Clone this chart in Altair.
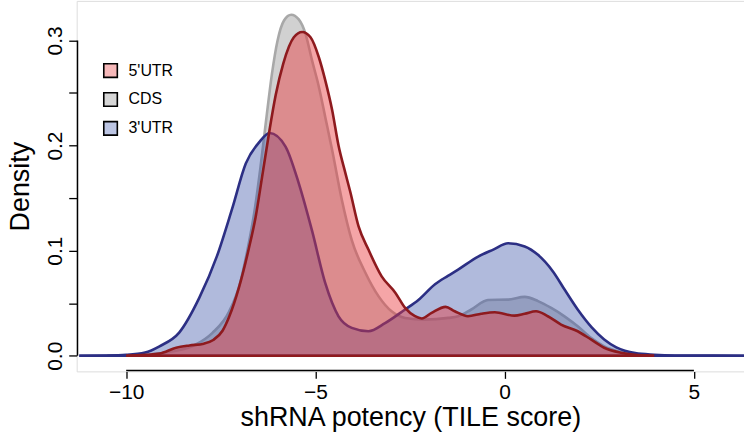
import altair as alt
import pandas as pd

# ---- data (density curves) ----
utr3_x = [-11.24, -10.5, -10.0, -9.5, -9.12, -8.6, -8.07, -7.6, -7.2, -6.84, -6.49, -6.21,
          -5.79, -5.44, -5.09, -4.74, -4.39, -4.04, -3.6, -3.16, -2.63, -2.28, -1.84, -1.5,
          -1.23, -0.7, -0.3, 0.09, 0.53, 0.88, 1.28, 1.6, 1.93, 2.3, 2.63, 2.95, 3.45, 3.95,
          4.5, 5.5, 6.4]
utr3_y = [0.0, 0.0002, 0.0008, 0.003, 0.009, 0.022, 0.055, 0.095, 0.14, 0.183, 0.203, 0.212,
          0.199, 0.164, 0.119, 0.069, 0.0375, 0.0265, 0.0233, 0.031, 0.044, 0.053, 0.068,
          0.076, 0.082, 0.0944, 0.101, 0.107, 0.104, 0.096, 0.080, 0.062, 0.044, 0.027,
          0.0155, 0.008, 0.0025, 0.001, 0.0003, 0.0001, 0.0]

cds_x = [-10.5, -9.5, -8.8, -8.16, -7.72, -7.28, -7.0, -6.8, -6.6, -6.45, -6.3, -6.15, -6.0,
         -5.83, -5.64, -5.44, -5.26, -5.09, -4.91, -4.74, -4.56, -4.3, -4.04, -3.68, -3.33,
         -2.98, -2.63, -2.11, -1.49, -1.23, -0.88, -0.44, 0.09, 0.53, 0.88, 1.23, 1.58, 1.93,
         2.28, 2.63, 2.98, 3.5, 4.0]
cds_y = [0.0, 0.0008, 0.004, 0.0107, 0.0218, 0.042, 0.068, 0.1, 0.14, 0.18, 0.225, 0.268,
         0.3, 0.319, 0.3245, 0.320, 0.306, 0.281, 0.256, 0.227, 0.196, 0.148, 0.110, 0.079,
         0.0565, 0.042, 0.036, 0.0344, 0.036, 0.0375, 0.044, 0.053, 0.0534, 0.056, 0.052,
         0.0455, 0.0375, 0.028, 0.017, 0.009, 0.0044, 0.001, 0.0]

utr5_x = [-10.0, -9.5, -9.12, -8.68, -8.33, -7.95, -7.7, -7.45, -7.28, -7.02, -6.76, -6.58,
          -6.41, -6.23, -6.05, -5.85, -5.57, -5.35, -5.13, -4.91, -4.74, -4.56, -4.39, -4.21,
          -4.08, -3.86, -3.6, -3.25, -2.89, -2.63, -2.37, -2.19, -1.93, -1.56, -1.32, -0.97,
          -0.62, -0.26, 0.26, 0.53, 0.83, 1.14, 1.49, 1.93, 2.28, 2.63, 3.07, 3.51, 3.95]
utr5_y = [0.0, 0.0008, 0.002, 0.0076, 0.0098, 0.0115, 0.015, 0.024, 0.037, 0.065, 0.102,
          0.132, 0.170, 0.211, 0.248, 0.278, 0.303, 0.308, 0.303, 0.284, 0.262, 0.234, 0.200,
          0.174, 0.156, 0.123, 0.101, 0.0755, 0.060, 0.0455, 0.0376, 0.0354, 0.0408, 0.0465,
          0.0423, 0.0376, 0.040, 0.0414, 0.0382, 0.040, 0.0423, 0.0376, 0.0297, 0.0233,
          0.0155, 0.0076, 0.0028, 0.0006, 0.0]

series_names = ["5'UTR", "CDS", "3'UTR"]
x_ticks = [-10, -5, 0, 5]
y_ticks = [0.0, 0.05, 0.1, 0.15, 0.2, 0.25, 0.3]

# ---- styling ----
fills = {"5'UTR": "#E8383B", "CDS": "#999999", "3'UTR": "#3A52A8"}
fill_op = {"5'UTR": 0.45, "CDS": 0.45, "3'UTR": 0.40}
strokes = {"5'UTR": "#8E1A1E", "CDS": "#A8A8A8", "3'UTR": "#2C2F84"}
legend_fills = ["#F6B8B9", "#D6D6D6", "#BCC5E3"]

frames = []
for name, xs, ys in [("5'UTR", utr5_x, utr5_y), ("CDS", cds_x, cds_y), ("3'UTR", utr3_x, utr3_y)]:
    frames.append(pd.DataFrame({"series": name, "x": xs, "y": ys}))
df = pd.concat(frames, ignore_index=True)

W, H = 670, 372
ppu_x = 38.0
xdom = [-11.308, -11.308 + W / ppu_x]
ppu_y = 1055.3
ydom = [-(H - 356.3) / ppu_y, 356.3 / ppu_y]
FONT = "Liberation Sans"

# R-style axis lines: from first to last tick, just inside the plot-region edges
inset = 0.8
axis_df = pd.DataFrame({
    "part": ["xaxis", "xaxis", "yaxis", "yaxis"],
    "x": [x_ticks[0], x_ticks[-1], xdom[0] + inset / ppu_x, xdom[0] + inset / ppu_x],
    "y": [ydom[0] + inset / ppu_y, ydom[0] + inset / ppu_y, y_ticks[0], y_ticks[-1]],
})

xscale = alt.Scale(domain=xdom, nice=False, zero=False)
yscale = alt.Scale(domain=ydom, nice=False, zero=False)

xaxis = alt.Axis(values=x_ticks, domain=False, grid=False, tickSize=7, tickColor="black",
                 tickWidth=1.3, labelFontSize=21, labelFont=FONT, labelColor="black",
                 labelPadding=3, title="shRNA potency (TILE score)", titleFont=FONT,
                 titleFontSize=27, titleFontWeight="normal", titleColor="black",
                 titlePadding=2, labelFlush=False)
yaxis = alt.Axis(values=y_ticks, domain=False, grid=False, tickSize=8, tickColor="black",
                 tickWidth=1.3, labelFontSize=21, labelFont=FONT, labelColor="black",
                 labelAngle=270, labelAlign="center", labelBaseline="alphabetic",
                 labelPadding=7,
                 labelExpr="round(datum.value*20) % 2 == 0 ? format(datum.value, '.1f') : ''",
                 title="Density", titleFont=FONT, titleFontSize=27,
                 titleFontWeight="normal", titleColor="black", titlePadding=10,
                 labelFlush=False)

X = lambda f: alt.X(f, scale=xscale, axis=xaxis)
Y = lambda f: alt.Y(f, scale=yscale, axis=yaxis)

base = alt.Chart(df)
layers = []
for name in ["CDS", "3'UTR", "5'UTR"]:
    sub = base.transform_filter(alt.datum.series == name)
    area = sub.mark_area(interpolate="monotone", fill=fills[name],
                         fillOpacity=fill_op[name]).encode(x=X("x:Q"), y=Y("y:Q"))
    line = sub.mark_line(interpolate="monotone", stroke=strokes[name],
                         strokeWidth=2.6).encode(x=X("x:Q"), y=Y("y:Q"))
    baseline = sub.transform_aggregate(xmin="min(x)", xmax="max(x)").mark_rule(
        stroke=strokes[name], strokeWidth=2.6).encode(
        x=X("xmin:Q"), x2="xmax:Q",
        y=alt.datum(0, scale=yscale))
    layers += [area, line, baseline]

axis_lines = alt.Chart(axis_df).mark_line(stroke="#000000", strokeWidth=1.5,
                                          strokeCap="butt", clip=False).encode(
    x=X("x:Q"), y=Y("y:Q"), detail="part:N")

legend_layer = alt.Chart(df).transform_filter("false").mark_square(
    filled=True, stroke="black", strokeWidth=1.6, opacity=1).encode(
    x=X("x:Q"), y=Y("y:Q"),
    fill=alt.Fill("series:N",
                  scale=alt.Scale(domain=series_names, range=legend_fills),
                  legend=alt.Legend(title=None, orient="none", legendX=26, legendY=62,
                                    symbolType="square", symbolSize=185,
                                    symbolStrokeColor="black", symbolStrokeWidth=1.6,
                                    symbolOpacity=1, labelFont=FONT, labelFontSize=16,
                                    labelColor="black", labelOffset=10, rowPadding=7,
                                    padding=0)))

chart = alt.layer(*layers, axis_lines, legend_layer).properties(
    width=W, height=H,
    autosize=alt.AutoSizeParams(type="none"),
    padding={"left": 77, "top": 0, "right": 0, "bottom": 65},
).configure_view(strokeWidth=0).configure_axis(domain=False, grid=False).configure(
    background="white")

chart.save("out.html", embed_options={"renderer": "svg", "actions": False})
